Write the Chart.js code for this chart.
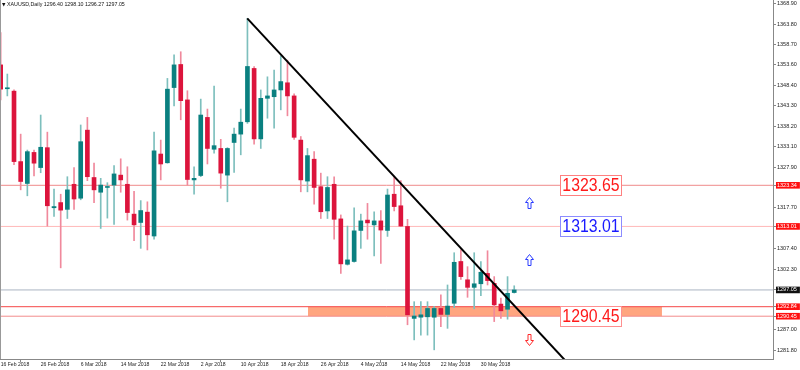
<!DOCTYPE html>
<html><head><meta charset="utf-8">
<script src="https://cdn.jsdelivr.net/npm/chart.js@4.4.0/dist/chart.umd.min.js"></script>
<style>html,body{margin:0;padding:0;background:#fff;}#wrap{width:800px;height:370px;position:relative;}</style>
</head><body><div id="wrap"><canvas id="c" width="800" height="370"></canvas></div>
<script>
// ---------- data ----------
const symbolTitle = "XAUUSD,Daily";
const lastBarOHLC = ["1296.40", "1298.10", "1296.27", "1297.05"];

const dateLabels = ["16 Feb 2018", "26 Feb 2018", "6 Mar 2018", "14 Mar 2018", "22 Mar 2018", "2 Apr 2018",
  "10 Apr 2018", "18 Apr 2018", "26 Apr 2018", "4 May 2018", "14 May 2018", "22 May 2018", "30 May 2018"];
const dateLabelBars = [0, 6, 12, 18, 24, 30, 36, 42, 48, 54, 60, 66, 72];

const opens = [1353.6, 1347.6, 1347.0, 1329.3, 1323.8, 1331.6, 1327.8, 1332.8, 1317.7, 1319.0,
  1317.3, 1323.6, 1320.1, 1337.2, 1325.3, 1321.6, 1322.8, 1323.4, 1325.9, 1323.6,
  1316.1, 1314.0, 1316.6, 1310.6, 1331.2, 1329.0, 1347.9, 1353.7, 1344.8, 1324.7,
  1325.8, 1340.4, 1332.4, 1332.6, 1325.9, 1334.1, 1336.2, 1339.3, 1352.7, 1335.0,
  1345.2, 1345.6, 1347.3, 1349.1, 1345.8, 1334.7, 1324.4, 1329.9, 1323.0, 1316.9,
  1323.6, 1314.9, 1303.5, 1304.2, 1312.0, 1314.6, 1313.4, 1314.4, 1312.0, 1321.1,
  1318.2, 1313.0, 1289.9, 1290.2, 1290.3, 1290.2, 1292.4, 1290.9, 1293.7, 1304.2,
  1299.6, 1297.7, 1298.6, 1301.2, 1298.7, 1293.5, 1292.2, 1296.40];
const highs = [1361.7, 1351.3, 1347.3, 1336.2, 1332.2, 1332.2, 1341.0, 1336.7, 1322.4, 1321.1,
  1325.5, 1327.8, 1338.5, 1340.4, 1328.9, 1325.1, 1324.0, 1328.3, 1330.0, 1328.0,
  1321.8, 1319.5, 1319.2, 1336.7, 1334.7, 1350.2, 1356.1, 1356.9, 1347.1, 1328.0,
  1345.0, 1342.5, 1348.3, 1334.9, 1332.8, 1337.7, 1342.5, 1365.3, 1353.2, 1347.3,
  1350.6, 1352.3, 1355.8, 1354.8, 1346.3, 1335.6, 1332.6, 1331.8, 1326.4, 1325.5,
  1325.5, 1315.9, 1313.1, 1317.7, 1316.1, 1318.8, 1316.7, 1317.0, 1322.4, 1325.5,
  1324.5, 1314.8, 1294.1, 1294.1, 1294.1, 1292.9, 1295.8, 1298.3, 1306.4, 1307.1,
  1302.9, 1306.4, 1304.2, 1306.9, 1300.4, 1295.0, 1300.4, 1298.10];
const lows = [1344.8, 1345.8, 1328.5, 1322.2, 1320.7, 1325.7, 1326.5, 1313.1, 1315.5, 1302.6,
  1315.0, 1317.3, 1319.7, 1324.5, 1319.0, 1312.5, 1315.1, 1313.5, 1321.6, 1314.6,
  1309.4, 1307.5, 1307.1, 1309.8, 1324.7, 1328.9, 1343.3, 1339.8, 1323.4, 1321.1,
  1325.5, 1328.7, 1331.4, 1322.6, 1319.2, 1326.6, 1331.0, 1338.9, 1333.7, 1332.6,
  1340.2, 1337.7, 1342.3, 1340.8, 1334.9, 1321.7, 1321.7, 1318.6, 1315.0, 1315.0,
  1309.8, 1301.2, 1303.3, 1304.0, 1307.5, 1309.8, 1305.6, 1303.7, 1310.5, 1316.9,
  1313.0, 1288.3, 1284.5, 1285.7, 1285.7, 1282.0, 1287.8, 1287.4, 1292.6, 1299.7,
  1295.2, 1292.3, 1295.6, 1298.3, 1289.1, 1289.9, 1289.7, 1296.27];
const closes = [1347.5, 1347.8, 1329.3, 1324.3, 1331.8, 1328.9, 1332.9, 1318.2, 1318.0, 1317.1,
  1322.2, 1319.9, 1334.3, 1325.5, 1322.2, 1323.4, 1323.0, 1326.2, 1324.7, 1316.5,
  1313.4, 1317.0, 1310.9, 1332.0, 1328.7, 1347.5, 1353.6, 1344.6, 1324.8, 1325.1,
  1341.0, 1332.6, 1333.3, 1326.4, 1332.6, 1336.2, 1339.2, 1353.2, 1335.0, 1345.2,
  1345.8, 1347.3, 1349.4, 1345.8, 1335.4, 1324.7, 1330.8, 1322.8, 1316.7, 1322.8,
  1314.8, 1303.6, 1304.6, 1311.9, 1314.4, 1313.9, 1314.4, 1312.1, 1320.9, 1318.0,
  1313.1, 1290.8, 1290.5, 1290.8, 1292.4, 1292.4, 1290.9, 1293.0, 1304.0, 1300.4,
  1297.7, 1298.6, 1301.5, 1299.4, 1293.3, 1291.8, 1296.2, 1297.05];

const priceTicks = [1368.90, 1363.80, 1358.70, 1353.60, 1348.40, 1343.30, 1338.20, 1333.10,
  1327.90, 1317.70, 1307.40, 1302.30, 1287.00, 1281.80];
const levelValues = [1323.34, 1313.01, 1297.05, 1292.84, 1290.45];

const zonePrices = [1292.84, 1290.45];
const zoneBars = [46.07, 99.15];
const trendBars = [36.97, 86.0];
const trendPrices = [1365.3, 1276.9];

const boxTexts = ["1323.65", "1313.01", "1290.45"];
const boxPrices = [1323.34, 1313.01, 1290.45];
const arrowPrices = [1318.9, 1304.6, 1284.7];
const arrowDirs = ["up", "up", "down"];

// ---------- styles ----------
const X_MIN = -0.1, X_MAX = 115.8, Y_MIN = 1279.7, Y_MAX = 1369.9;
const BULL = '#0a8080', BEAR = '#dc143c', BULL_WICK = '#7dbfbd', BEAR_WICK = '#f0899c';
const levelColors = ['#ef8a8a', '#ffb8b8', '#aab4c2', '#f54848', '#f38c8c'];
const levelLabelBg = ['#ff1010', '#ff1010', '#111111', '#ff1010', '#ff1010'];
const boxTextColors = ['#ff1a1a', '#1a1aff', '#ff1a1a'];
const boxBorderColors = ['#ff8080', '#8c8cff', '#ff9090'];
const BOX_BAR = 83.85, ARROW_BAR = 79.2;

const idx = opens.map((_, i) => i);
const isBull = i => closes[i] >= opens[i];

const datasets = [
  {
    type: 'line', data: [{x: zoneBars[0], y: zonePrices[0]}, {x: zoneBars[1], y: zonePrices[0]}],
    borderWidth: 0, pointRadius: 0, fill: {value: zonePrices[1]}, backgroundColor: '#ffa57f', order: 20
  },
  ...levelValues.map((v, i) => ({
    type: 'line', data: [{x: X_MIN, y: v}, {x: X_MAX, y: v}],
    borderColor: levelColors[i], borderWidth: 1, pointRadius: 0, fill: false, order: 10 + i
  })),
  {
    type: 'bar', data: idx.map(i => ({x: i, y: [lows[i], highs[i]]})),
    backgroundColor: idx.map(i => isBull(i) ? BULL_WICK : BEAR_WICK),
    barThickness: 1, grouped: false, borderWidth: 0, order: 6
  },
  {
    type: 'bar', data: idx.map(i => ({x: i, y: [opens[i], closes[i]]})),
    backgroundColor: idx.map(i => isBull(i) ? BULL : BEAR),
    barThickness: 4, minBarLength: 1, grouped: false, borderWidth: 0, order: 5
  },
  {
    type: 'line', data: trendBars.map((b, i) => ({x: b, y: trendPrices[i]})),
    borderColor: '#000', borderWidth: 2, pointRadius: 0, fill: false, order: 1
  }
];

const allYTicks = priceTicks.concat(levelValues);
const levelIndex = v => levelValues.findIndex(l => Math.abs(l - v) < 1e-6);

const overlay = {
  id: 'overlay',
  afterDatasetsDraw(chart) {
    const ctx = chart.ctx, xs = chart.scales.x, ys = chart.scales.y;
    ctx.save();
    // text boxes
    boxTexts.forEach((t, i) => {
      const left = Math.round(xs.getPixelForValue(BOX_BAR));
      const cy = Math.round(ys.getPixelForValue(boxPrices[i]));
      ctx.fillStyle = '#fff';
      ctx.fillRect(left, cy - 10, 61, 20);
      ctx.strokeStyle = boxBorderColors[i];
      ctx.lineWidth = 1;
      ctx.strokeRect(left + 0.5, cy - 10 + 0.5, 61, 20);
      ctx.save();
      ctx.translate(left + 31, cy + 1);
      ctx.scale(0.88, 1);
      ctx.font = '18px "Liberation Sans", Arial, sans-serif';
      ctx.textAlign = 'center';
      ctx.textBaseline = 'middle';
      ctx.fillStyle = boxTextColors[i];
      ctx.fillText(t, 0, 0);
      ctx.restore();
    });
    // arrows
    arrowPrices.forEach((p, i) => {
      const cx = Math.round(xs.getPixelForValue(ARROW_BAR)) + 0.5;
      const cy = Math.round(ys.getPixelForValue(p)) + 0.5;
      const s = arrowDirs[i] === 'up' ? 1 : -1;
      ctx.beginPath();
      ctx.moveTo(cx, cy - 6 * s);
      ctx.lineTo(cx + 4, cy - 1 * s);
      ctx.lineTo(cx + 1.5, cy - 1 * s);
      ctx.lineTo(cx + 1.5, cy + 5 * s);
      ctx.lineTo(cx - 1.5, cy + 5 * s);
      ctx.lineTo(cx - 1.5, cy - 1 * s);
      ctx.lineTo(cx - 4, cy - 1 * s);
      ctx.closePath();
      ctx.lineWidth = 1;
      ctx.strokeStyle = arrowDirs[i] === 'up' ? '#2a3cff' : '#ff2a2a';
      ctx.stroke();
    });
    ctx.restore();
  },
  afterDraw(chart) {
    const ctx = chart.ctx, a = chart.chartArea;
    ctx.save();
    ctx.strokeStyle = '#999';
    ctx.lineWidth = 1;
    ctx.beginPath();
    ctx.moveTo(a.left + 0.5, a.top);
    ctx.lineTo(a.left + 0.5, a.bottom);
    ctx.stroke();
    ctx.fillStyle = '#111';
    ctx.textBaseline = 'middle';
    ctx.font = '4.5px "DejaVu Sans", sans-serif';
    ctx.fillText('▼', 2, 5);
    ctx.font = '5.3px "Liberation Sans", Arial, sans-serif';
    ctx.fillText(symbolTitle + ' ' + lastBarOHLC.join(' '), 7, 5);
    ctx.restore();
  }
};

new Chart(document.getElementById('c'), {
  type: 'bar',
  data: {datasets},
  options: {
    responsive: false,
    devicePixelRatio: 1,
    animation: false,
    layout: {padding: 0, autoPadding: false},
    plugins: {legend: {display: false}, tooltip: {enabled: false}},
    events: [],
    scales: {
      x: {
        type: 'linear', min: X_MIN, max: X_MAX, offset: false,
        grid: {drawOnChartArea: false, drawTicks: true, tickLength: 3, color: '#888'},
        border: {display: true, color: '#888', width: 1},
        afterBuildTicks: s => { s.ticks = dateLabelBars.map(v => ({value: v})); },
        afterFit: s => { s.height = 11; s.paddingLeft = 0; s.paddingRight = 0; },
        ticks: {
          autoSkip: false, maxRotation: 0, minRotation: 0, align: 'start', padding: 0,
          color: '#222', font: {size: 5.1, family: '"Liberation Sans", Arial, sans-serif'},
          callback: (v, i) => dateLabels[i]
        }
      },
      y: {
        type: 'linear', position: 'right', min: Y_MIN, max: Y_MAX,
        grid: {drawOnChartArea: false, drawTicks: true, tickLength: 3, color: '#888'},
        border: {display: true, color: '#888', width: 1},
        afterBuildTicks: s => { s.ticks = allYTicks.map(v => ({value: v})); },
        afterFit: s => { s.width = 27; s.paddingTop = 0; s.paddingBottom = 0; },
        ticks: {
          autoSkip: false, padding: 1,
          font: {size: 5.5, family: '"Liberation Sans", Arial, sans-serif'},
          color: c => levelIndex(c.tick.value) >= 0 ? '#fff' : '#222',
          showLabelBackdrop: c => levelIndex(c.tick.value) >= 0,
          backdropColor: c => { const k = levelIndex(c.tick.value); return k >= 0 ? levelLabelBg[k] : 'transparent'; },
          backdropPadding: {left: 1, right: 3, top: 0, bottom: 0},
          callback: v => Number(v).toFixed(2)
        }
      }
    }
  },
  plugins: [overlay]
});
</script>
</body></html>
